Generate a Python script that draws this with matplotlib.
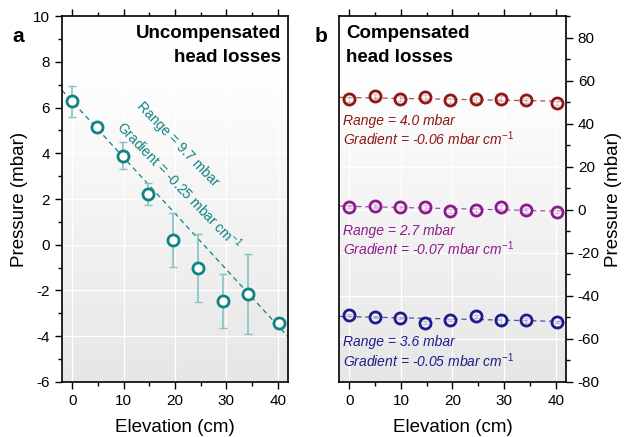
import numpy as np
import matplotlib.pyplot as plt
from matplotlib.colors import LinearSegmentedColormap
from matplotlib.ticker import MultipleLocator

plt.rcParams['font.family'] = ['Liberation Sans', 'DejaVu Sans']
plt.rcParams['axes.unicode_minus'] = False
plt.rcParams['mathtext.fontset'] = 'custom'
plt.rcParams['mathtext.rm'] = 'Liberation Sans'
plt.rcParams['mathtext.it'] = 'Liberation Sans:italic'

# elevations (cm)
elev = [0, 4.9, 9.8, 14.7, 19.6, 24.5, 29.4, 34.3, 40.2]

# panel a: uncompensated head losses
p_unc = [6.28, 5.14, 3.90, 2.23, 0.20, -1.01, -2.46, -2.14, -3.42]
e_unc = [0.67, 0.1, 0.6, 0.48, 1.17, 1.5, 1.17, 1.75, 0.2]
fit_unc = (-0.245, 6.27)  # slope, intercept of the drawn trend line

# panel b: compensated head losses, three sets
p_red = [51.3, 52.7, 51.6, 52.2, 50.9, 51.3, 51.6, 50.9, 49.8]
e_red = [1.2, 1.0, 1.2, 1.0, 1.2, 1.0, 1.2, 1.2, 1.0]
p_pur = [1.5, 1.7, 1.1, 1.1, -0.5, 0.0, 1.1, -0.2, -0.9]
e_pur = [0.8, 0.8, 0.8, 1.2, 0.8, 0.8, 1.0, 1.2, 0.8]
p_blu = [-48.8, -49.9, -50.2, -52.4, -51.3, -49.5, -51.0, -51.3, -52.1]
e_blu = [0.6, 0.6, 0.6, 0.6, 0.6, 0.6, 2.2, 1.2, 0.6]
ranges = ['4.0', '2.7', '3.6']
gradients = ['-0.06', '-0.07', '-0.05']

teal = '#108382'
teal_err = '#85c3c3'
red = '#8e1616'
purple = '#8c1a8c'
blue = '#1c1c8c'

fig = plt.figure(figsize=(6.26, 4.37), dpi=100)
axa = fig.add_axes([0.099, 0.126, 0.361, 0.837])
axb = fig.add_axes([0.5415, 0.126, 0.3626, 0.837])

bg = LinearSegmentedColormap.from_list('bg', [(0, '#e6e6e6'), (0.8, '#fdfdfd'), (1, '#ffffff')])
grad = np.linspace(1, 0, 256).reshape(-1, 1)
xx = np.array([-2, 42])
for ax in (axa, axb):
    ax.imshow(grad, extent=[0, 1, 0, 1], transform=ax.transAxes, aspect='auto', cmap=bg, zorder=0)
    ax.set_xlim(-2, 42)
    ax.xaxis.set_major_locator(MultipleLocator(10))
    ax.xaxis.set_minor_locator(MultipleLocator(5))
    ax.grid(True, color='white', lw=0.9, zorder=0.5)
    for s in ax.spines.values():
        s.set_linewidth(1.2)
    ax.tick_params(which='both', direction='out', top=True, labelsize=11, width=1.0)
    ax.tick_params(which='major', length=5)
    ax.tick_params(which='minor', length=3)
    ax.set_xlabel('Elevation (cm)', fontsize=13.5, labelpad=8)

# panel a
axa.set_ylim(-6, 10)
axa.yaxis.set_major_locator(MultipleLocator(2))
axa.yaxis.set_minor_locator(MultipleLocator(1))
axa.tick_params(which='both', left=True, right=False)
axa.set_ylabel('Pressure (mbar)', fontsize=13.5)
axa.plot(xx, fit_unc[0] * xx + fit_unc[1], ls=(0, (4, 3)), color=teal, lw=0.9, zorder=2)
axa.errorbar(elev, p_unc, yerr=e_unc, fmt='none', ecolor=teal_err, elinewidth=1.2, capsize=3, zorder=3)
axa.plot(elev, p_unc, 'o', mfc='white', mec=teal, ms=8, mew=2, zorder=4)
axa.text(0.97, 0.975, 'Uncompensated\nhead losses', transform=axa.transAxes, ha='right', va='top',
         fontsize=13.5, fontweight='bold', linespacing=1.5)
axa.text(14.0, 6.35, 'Range = 9.7 mbar', rotation=-46, rotation_mode='anchor', color=teal,
         fontsize=10, ha='left', va='top')
axa.text(10.6, 5.6, 'Gradient = -0.25 mbar cm$^{-1}$', rotation=-46, rotation_mode='anchor',
         color=teal, fontsize=10, ha='left', va='top')
fig.text(0.02, 0.905, 'a', fontsize=15, fontweight='bold')

# panel b
axb.set_ylim(-80, 90)
axb.yaxis.set_major_locator(MultipleLocator(20))
axb.yaxis.set_minor_locator(MultipleLocator(10))
axb.yaxis.tick_right()
axb.yaxis.set_label_position('right')
axb.tick_params(which='both', left=False, right=True)
axb.set_ylabel('Pressure (mbar)', fontsize=13.5)
sets = [(p_red, e_red, red, 41.3), (p_pur, e_pur, purple, -9.9), (p_blu, e_blu, blue, -61.6)]
for (p, e, c, ytxt), rng, grd in zip(sets, ranges, gradients):
    f = np.polyfit(elev, p, 1)
    axb.plot(xx, np.polyval(f, xx), ls=(0, (4, 3)), color=c, lw=0.9, alpha=0.75, zorder=2)
    axb.errorbar(elev, p, yerr=e, fmt='none', ecolor=c, elinewidth=0.8, capsize=2, alpha=0.5, zorder=3)
    axb.plot(elev, p, 'o', mfc=(1, 1, 1, 0.5), mec=c, ms=8, mew=2, zorder=4)
    axb.text(-1.2, ytxt, 'Range = %s mbar' % rng, color=c, fontsize=10, style='italic', va='center')
    axb.text(-1.2, ytxt - 8.4, 'Gradient = %s mbar cm$^{\\mathit{-1}}$' % grd, color=c, fontsize=10,
             style='italic', va='center')
axb.text(0.03, 0.975, 'Compensated\nhead losses', transform=axb.transAxes, ha='left', va='top',
         fontsize=13.5, fontweight='bold', linespacing=1.5)
fig.text(0.503, 0.905, 'b', fontsize=15, fontweight='bold')

fig.savefig('out.png', dpi=100)
